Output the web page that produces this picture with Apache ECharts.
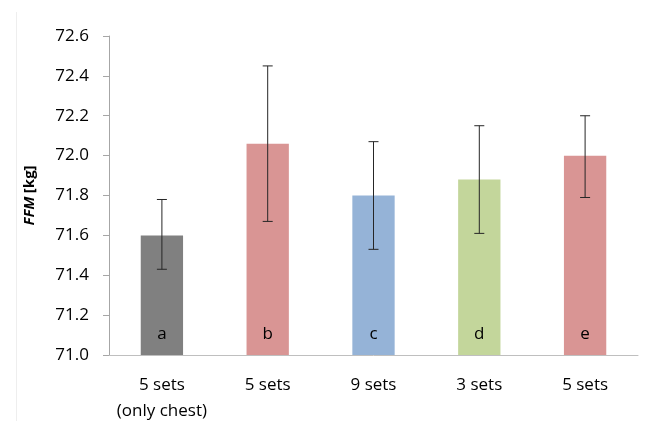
<!DOCTYPE html>
<html><head><meta charset="utf-8">
<script src="https://cdn.jsdelivr.net/npm/echarts@6/dist/echarts.min.js"></script>
<style>html,body{margin:0;padding:0;background:#fff}#c{width:649px;height:421px}</style>
</head><body><div id="c"></div>
<script>
const categories = ['5 sets\n(only chest)', '5 sets', '9 sets', '3 sets', '5 sets'];
const barLetters = ['a', 'b', 'c', 'd', 'e'];
const means = [71.60, 72.06, 71.80, 71.88, 72.00];
const errLow = [71.43, 71.67, 71.53, 71.61, 71.79];
const errHigh = [71.78, 72.45, 72.07, 72.15, 72.20];
const colors = ['#808080', '#D99594', '#95B3D7', '#C3D69B', '#D99594'];
const yTicks = [71.0, 71.2, 71.4, 71.6, 71.8, 72.0, 72.2, 72.4, 72.6];

const font = 'Open Sans, Liberation Sans, sans-serif';
const chart = echarts.init(document.getElementById('c'));
chart.setOption({
  animation: false,
  grid: { left: 109, right: 11, top: 36, bottom: 66, containLabel: false, outerBoundsMode: 'none' },
  graphic: [{ type: 'line', shape: { x1: 16.5, y1: 12, x2: 16.5, y2: 421 }, style: { stroke: '#eeeeee', lineWidth: 1 } }],
  xAxis: {
    type: 'category', data: categories,
    axisLine: { lineStyle: { color: '#BFBFBF', width: 1 } },
    axisTick: { lineStyle: { color: '#A6A6A6' }, length: 6 },
    axisLabel: { color: '#000', fontSize: 17, fontFamily: font, lineHeight: 26, margin: 17, interval: 0 }
  },
  yAxis: {
    type: 'value', min: yTicks[0], max: yTicks[yTicks.length - 1], interval: 0.2,
    splitLine: { show: false },
    axisLine: { show: true, lineStyle: { color: '#A6A6A6' } },
    axisTick: { show: true, lineStyle: { color: '#A6A6A6' }, length: 6 },
    axisLabel: { color: '#000', fontSize: 17, fontFamily: font, margin: 20, formatter: v => v.toFixed(1) },
    name: '{i|FFM} {b|[kg]}', nameLocation: 'middle', nameRotate: 90, nameGap: 72,
    nameTextStyle: { rich: {
      i: { fontStyle: 'italic', fontWeight: 'bold', fontSize: 15, fontFamily: font, color: '#000' },
      b: { fontWeight: 'bold', fontSize: 15, fontFamily: font, color: '#000' }
    } }
  },
  series: [{
    type: 'bar', barWidth: '40%',
    data: means.map((v, i) => ({ value: v, itemStyle: { color: colors[i] } })),
    label: { show: true, position: 'insideBottom', distance: 12, fontSize: 17, fontFamily: font, color: '#000',
      formatter: p => barLetters[p.dataIndex] }
  }, {
    type: 'custom',
    data: errLow.map((l, i) => [i, l, errHigh[i]]),
    renderItem: (params, api) => {
      const lo = api.coord([api.value(0), api.value(1)]);
      const hi = api.coord([api.value(0), api.value(2)]);
      const w = 5;
      const st = { stroke: '#262626', lineWidth: 1 };
      return { type: 'group', children: [
        { type: 'line', shape: { x1: lo[0], y1: lo[1], x2: hi[0], y2: hi[1] }, style: st },
        { type: 'line', shape: { x1: lo[0] - w, y1: lo[1], x2: lo[0] + w, y2: lo[1] }, style: st },
        { type: 'line', shape: { x1: hi[0] - w, y1: hi[1], x2: hi[0] + w, y2: hi[1] }, style: st }
      ] };
    },
    z: 10
  }]
});
</script></body></html>
